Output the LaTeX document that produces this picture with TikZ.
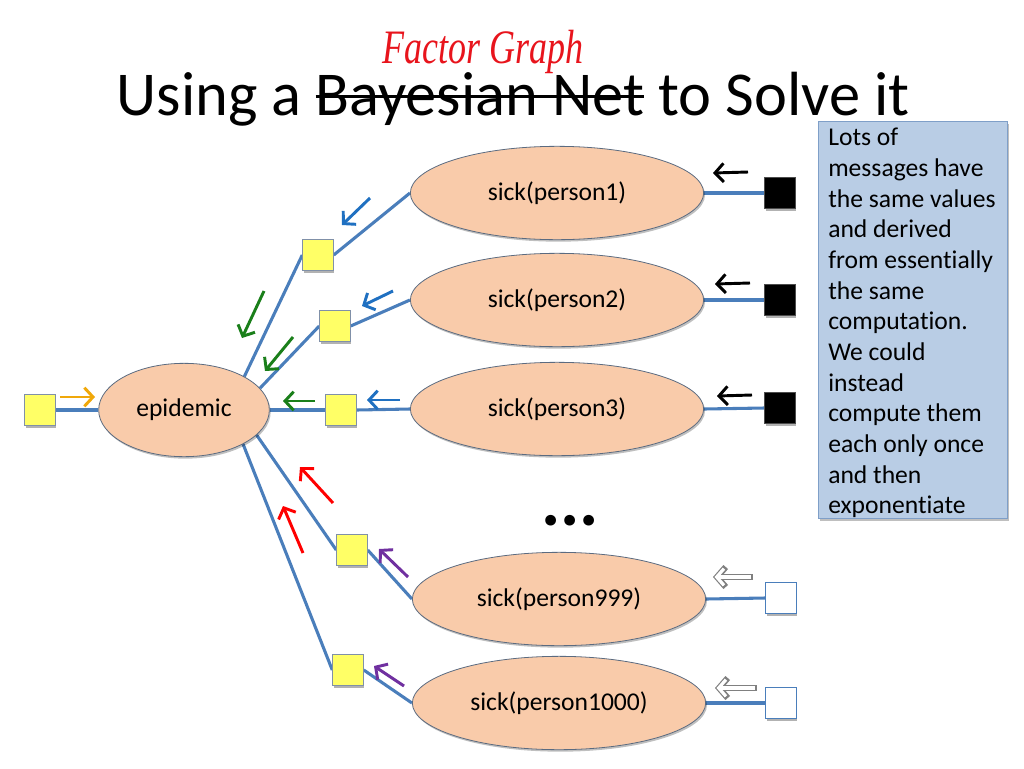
\documentclass[tikz,border=0pt]{standalone}
\usepackage{fontspec}
\setmainfont{Carlito}[Ligatures=NoCommon]
\newfontfamily\handfont{Liberation Serif}
\usetikzlibrary{arrows.meta,shapes.geometric,shadows}
\pgfdeclarelayer{background}
\pgfsetlayers{background,main}
\newcommand\mystrike[1]{\setbox0\hbox{#1}\rlap{\rule[0.27em]{\wd0}{2pt}}\copy0\relax}
\definecolor{linkblue}{HTML}{4A7EBB}
\definecolor{peach}{HTML}{F9CBAA}
\definecolor{peachedge}{HTML}{5B6B80}
\definecolor{facyellow}{HTML}{FFFF66}
\definecolor{facedge}{HTML}{8090A8}
\definecolor{boxfill}{HTML}{B9CDE5}
\definecolor{boxedge}{HTML}{7F9FC8}
\definecolor{msgblue}{HTML}{1F70C1}
\definecolor{msggreen}{HTML}{1A7F1A}
\definecolor{msgred}{HTML}{FF0000}
\definecolor{msgpurple}{HTML}{7030A0}
\definecolor{msgorange}{HTML}{F0A80A}
\definecolor{handred}{HTML}{E8141C}
\tikzset{
  var/.style={ellipse, draw=peachedge, line width=0.6pt, fill=peach, inner sep=0pt,
    font=\fontsize{19.2}{23}\selectfont,
    drop shadow={shadow xshift=1pt, shadow yshift=-1.5pt, fill=black, opacity=0.25}},
  pvar/.style={var, minimum width=220pt, minimum height=70pt},
  evar/.style={var, minimum width=128pt, minimum height=70pt},
  fac/.style={rectangle, line width=0.6pt, minimum size=23pt, inner sep=0pt,
    drop shadow={shadow xshift=0.8pt, shadow yshift=-1.8pt, fill=black, opacity=0.3}},
  yfac/.style={fac, draw=facedge, fill=facyellow},
  bfac/.style={fac, draw=black!70, fill=black},
  wfac/.style={fac, draw=linkblue, fill=white},
  link/.style={draw=linkblue, line width=2.3pt},
  msg/.style={line width=2.2pt, -{Straight Barb[length=6.5pt,width=14pt]}},
  notebox/.style={rectangle, draw=boxedge, line width=0.8pt, fill=boxfill,
    minimum width=141.5pt, minimum height=298pt, anchor=north west,
    drop shadow={shadow xshift=1pt, shadow yshift=-1.5pt, fill=black, opacity=0.25}}
}
\begin{document}
\begin{tikzpicture}[x=0.75pt,y=-0.75pt]
\useasboundingbox (0,0) rectangle (1024,768);

% title
\node[anchor=base, inner sep=0pt, font=\fontsize{46.8}{50}\selectfont] (title) at (513,115)
  {Using a \mystrike{Bayesian Net} to Solve it};
\node[anchor=base, inner sep=0pt, text=handred, font=\handfont\itshape\fontsize{36}{40}\selectfont] (fg) at (483,63)
  {\scalebox{0.75}[1]{Factor Graph}};

% variable nodes
\node[evar] (epi) at (184,410) {epidemic};
\node[pvar] (p1) at (557,193) {sick(person1)};
\node[pvar] (p2) at (557,300) {sick(person2)};
\node[pvar] (p3) at (557,409) {sick(person3)};
\node[pvar] (p999) at (559,599) {sick(person999)};
\node[pvar] (p1000) at (559,703) {sick(person1000)};

% factor nodes
\node[yfac] (fL) at (40,410) {};
\node[yfac] (f1) at (318,255) {};
\node[yfac] (f2) at (335,326) {};
\node[yfac] (f3) at (341,410) {};
\node[yfac] (f999) at (352,550) {};
\node[yfac] (f1000) at (348,670) {};
\node[bfac] (b1) at (780,193) {};
\node[bfac] (b2) at (780,300) {};
\node[bfac] (b3) at (780,408) {};
\node[wfac] (w999) at (781,598) {};
\node[wfac] (w1000) at (781,703) {};

% links
\begin{pgfonlayer}{background}
\fill[white] (0,0) rectangle (1024,768);
\draw[link] (fL.east) -- (epi.west);
\draw[link] (epi.29) -- (f1.west);
\draw[link] (f1.east) -- (p1.west);
\draw[link] (epi.16) -- (f2.west);
\draw[link] (f2.east) -- (p2.west);
\draw[link] (epi.east) -- (f3.west);
\draw[link] (f3.east) -- (p3.west);
\draw[link] (epi.-19) -- (f999.west);
\draw[link] (f999.east) -- (p999.west);
\draw[link] (epi.-30) -- (f1000.west);
\draw[link] (f1000.east) -- (p1000.west);
\draw[link] (p1.east) -- (b1.west);
\draw[link] (p2.east) -- (b2.west);
\draw[link] (p3.east) -- (b3.west);
\draw[link] (p999.east) -- (w999.west);
\draw[link] (p1000.east) -- (w1000.west);
\end{pgfonlayer}

% messages
\draw[msg, msgorange] (60,397) -- (95,397);
\draw[msg, msgblue] (370,198) -- (342,225);
\draw[msg, msgblue] (393,291) -- (362,306);
\draw[msg, msgblue] (400,400) -- (367,400);
\draw[msg, msggreen] (264,291) -- (242,338);
\draw[msg, msggreen] (293,337) -- (265,371);
\draw[msg, msggreen] (315,401) -- (283,401);
\draw[msg, msgred] (333,503) -- (300,467);
\draw[msg, msgred] (303,553) -- (283,506);
\draw[msg, msgpurple] (408,577) -- (379,549);
\draw[msg, msgpurple] (404,686) -- (374,666);
\draw[msg, black] (748,172) -- (713,173);
\draw[msg, black] (750,283) -- (715,284);
\draw[msg, black] (752,395) -- (717,396);
% hollow arrows
\foreach \ya/\xa/\xb in {577/753/713, 688/757/715}{
  \draw[line width=4.6pt, black!50, -{Straight Barb[length=6.5pt,width=15pt]}] (\xa,\ya) -- (\xb,\ya);
  \draw[line width=2.4pt, white, -{Straight Barb[length=5.5pt,width=12.5pt]}] (\xa-2.5,\ya) -- (\xb+1.5,\ya);
}

% dots
\node[font=\bfseries\fontsize{54}{54}\selectfont, inner sep=0pt] (dots) at (570,521) {...};

% note
\node[notebox] (note) at (818,121) {};
\node[anchor=north west, inner sep=0pt, align=left,
  font=\fontsize{19.2}{23}\selectfont] (notetext) at (828,128)
  {Lots of\\messages have\\the same values\\and derived\\from essentially\\the same\\computation.\\We could\\instead\\compute them\\each only once\\and then\\exponentiate};
\end{tikzpicture}
\end{document}
